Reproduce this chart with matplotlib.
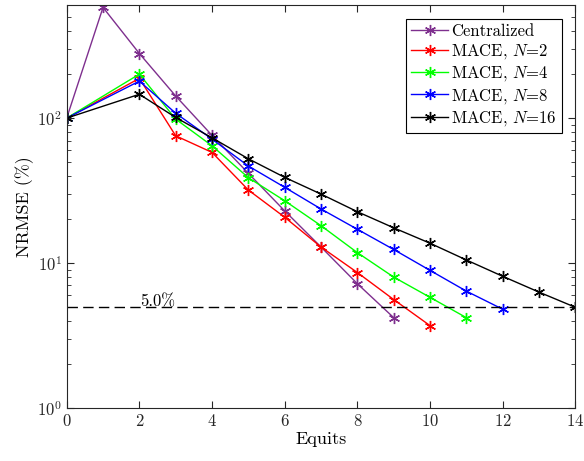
import matplotlib
matplotlib.use('Agg')
import matplotlib.pyplot as plt
from matplotlib.ticker import LogLocator, NullFormatter

plt.rcParams['font.family'] = ['cmr10', 'DejaVu Serif']
plt.rcParams['mathtext.fontset'] = 'cm'
plt.rcParams['axes.formatter.use_mathtext'] = True

# data
cent_x = [0, 1, 2, 3, 4, 5, 6, 7, 8, 9]
cent_y = [100, 580, 279, 142, 76, 41.6, 22.9, 12.9, 7.2, 4.2]

n2_x = [0, 2, 3, 4, 5, 6, 7, 8, 9, 10]
n2_y = [100, 188, 75.5, 58, 31.9, 20.7, 12.9, 8.6, 5.6, 3.7]

n4_x = [0, 2, 3, 4, 5, 6, 7, 8, 9, 10, 11]
n4_y = [100, 201, 98.4, 64.4, 38.8, 26.9, 18.1, 11.8, 8.0, 5.8, 4.2]

n8_x = [0, 2, 3, 4, 5, 6, 7, 8, 9, 10, 11, 12]
n8_y = [100, 180, 108, 71.6, 46.7, 33.3, 23.6, 17.1, 12.4, 8.9, 6.4, 4.8]

n16_x = [0, 2, 3, 4, 5, 6, 7, 8, 9, 10, 11, 12, 13, 14]
n16_y = [100, 146, 101, 73.1, 52.4, 39.0, 29.9, 22.6, 17.5, 13.7, 10.5, 8.1, 6.3, 4.95]

threshold = 5.0

fig = plt.figure(figsize=(5.84, 4.61), dpi=100)
ax = fig.add_axes([0.1142, 0.115, 0.871, 0.8735])

ast = (6, 2, 0)
ax.plot(cent_x, cent_y, color='#7E2F8E', marker=ast, ms=8, lw=1, label='Centralized')
ax.plot(n2_x, n2_y, color='r', marker=ast, ms=8, lw=1, label='MACE, $N$=2')
ax.plot(n4_x, n4_y, color='#00FF00', marker=ast, ms=8, lw=1, label='MACE, $N$=4')
ax.plot(n8_x, n8_y, color='b', marker=ast, ms=8, lw=1, label='MACE, $N$=8')
ax.plot(n16_x, n16_y, color='k', marker=ast, ms=8, lw=1, label='MACE, $N$=16')

# 5% threshold
ax.axhline(threshold, color='k', ls=(0, (7.5, 3.8)), lw=1)
ax.text(2.02, threshold, '5.0%', fontsize=12, va='baseline', ha='left')

ax.set_yscale('log')
ax.set_xlim(0, 14)
ax.set_ylim(1, 600)
ax.set_xticks([0, 2, 4, 6, 8, 10, 12, 14])
ax.yaxis.set_major_locator(LogLocator(base=10, numticks=10))
ax.yaxis.set_minor_locator(LogLocator(base=10, subs=range(2, 10), numticks=20))
ax.yaxis.set_minor_formatter(NullFormatter())

ax.tick_params(which='both', direction='in', top=True, right=True, labelsize=12, colors='#262626')
ax.tick_params(which='major', length=5)
ax.tick_params(which='minor', length=3)
for s in ax.spines.values():
    s.set_color('#262626')

ax.set_xlabel('Equits', fontsize=13, labelpad=2)
ax.set_ylabel('NRMSE (%)', fontsize=13, labelpad=2)

leg = ax.legend(loc='upper right', fontsize=12, fancybox=False, framealpha=1,
                edgecolor='k', borderpad=0.3, labelspacing=0.2, handlelength=2.2,
                handletextpad=0.2, borderaxespad=0.8)
leg.get_frame().set_linewidth(0.8)

fig.savefig('out.png', dpi=100)
